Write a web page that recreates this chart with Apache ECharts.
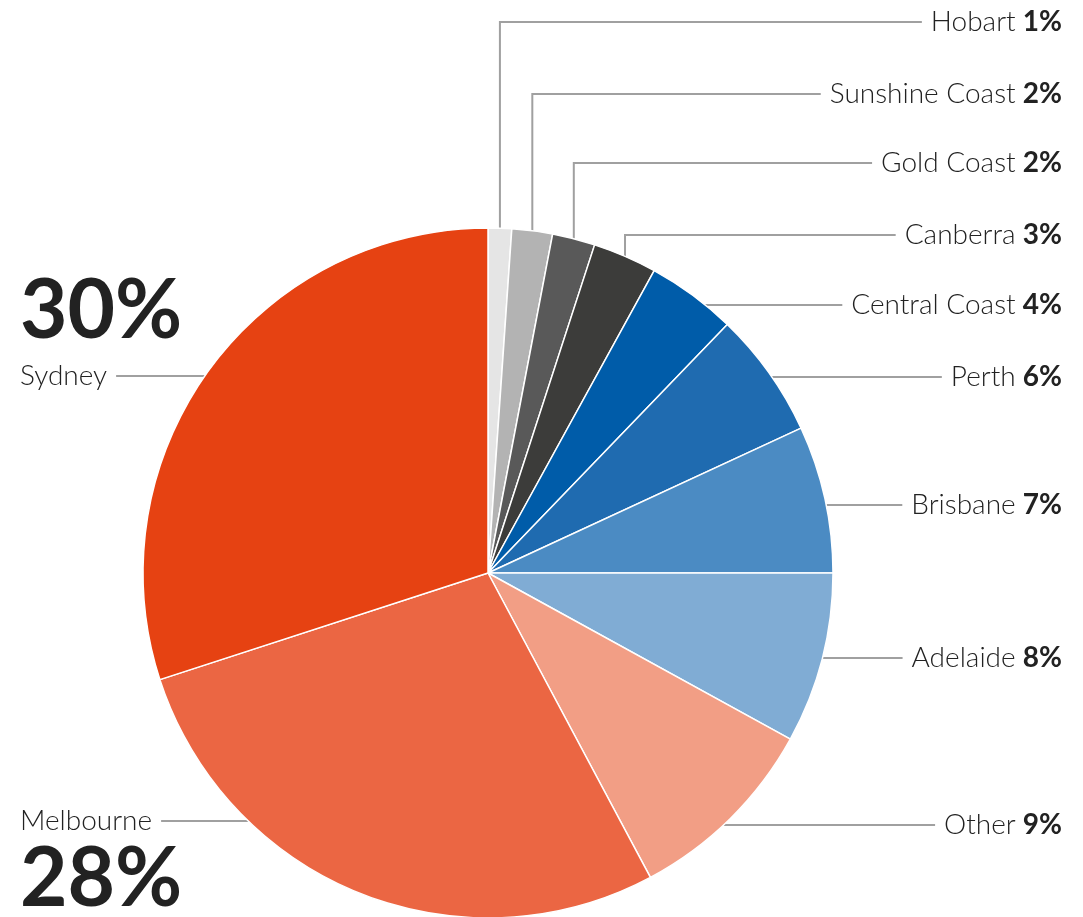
<!DOCTYPE html>
<html>
<head>
<meta charset="utf-8">
<script src="https://cdn.jsdelivr.net/npm/echarts@6/dist/echarts.min.js"></script>
<style>
  html, body { margin: 0; padding: 0; background: #fff; }
  #main { width: 1083px; height: 917px; }
</style>
</head>
<body>
<div id="main"></div>
<script>
// data, clockwise from 12 o'clock
var cities = ['Hobart', 'Sunshine Coast', 'Gold Coast', 'Canberra', 'Central Coast', 'Perth',
  'Brisbane', 'Adelaide', 'Other', 'Melbourne', 'Sydney'];
var shares = [1.1, 1.9, 2.0, 3.0, 4.2, 5.9, 6.9, 8.0, 9.2, 27.8, 30.0];
var colors = ['#e5e5e5', '#b3b3b3', '#595959', '#3c3c3a', '#005ca9', '#1f6bb0',
  '#4b8bc3', '#80acd4', '#f29e85', '#eb6643', '#e64212'];

// label rows (y of the leader line for each label)
var rowY = [22, 94, 163, 235, 305, 377, 505, 658, 825, 821, 376];

var CX = 488, CY = 573, R = 345;
var RIGHT_X = 1062, LEFT_X = 20, GAP = 9;
var FONT = 'Lato';
var FS = 28, NAME_LH = 32;
var BIG_TOP_LH = 96, BIG_BOT_LH = 86;

var total = shares.reduce(function (a, b) { return a + b; }, 0);
var arcs = [];
var acc = 0;
shares.forEach(function (v) {
  arcs.push({ s: acc / total * 360, e: (acc + v) / total * 360 });
  acc += v;
});

var ctx = document.createElement('canvas').getContext('2d');
function textWidth(str) {
  ctx.font = '300 ' + FS + 'px ' + FONT;
  return ctx.measureText(str).width;
}

var pieData = cities.map(function (c, i) {
  return { name: c, value: shares[i], itemStyle: { color: colors[i] } };
});

var myChart = echarts.init(document.getElementById('main'));

var option = {
  animation: false,
  series: [
    {
      type: 'pie',
      center: [CX, CY],
      radius: [0, R],
      startAngle: 90,
      clockwise: true,
      avoidLabelOverlap: false,
      silent: true,
      itemStyle: { borderColor: '#fff', borderWidth: 1.5 },
      label: {
        show: true,
        position: 'outside',
        fontFamily: FONT,
        fontSize: FS,
        color: '#222',
        formatter: function (p) {
          var pct = Math.round(p.value) + '%';
          if (p.dataIndex === 10) return '{bigT|' + pct + '}\n{name|' + p.name + '}';
          if (p.dataIndex === 9) return '{name|' + p.name + '}\n{bigB|' + pct + '}';
          return '{n|' + p.name + '} {p|' + pct + '}';
        },
        rich: {
          n: { fontFamily: FONT, fontSize: FS, fontWeight: 300, color: '#222', lineHeight: NAME_LH },
          p: { fontFamily: FONT, fontSize: FS, fontWeight: 'bold', color: '#222', lineHeight: NAME_LH },
          name: { fontFamily: FONT, fontSize: FS, fontWeight: 300, color: '#222', lineHeight: NAME_LH },
          bigT: { fontFamily: FONT, fontSize: 82, fontWeight: 'bold', color: '#222', lineHeight: BIG_TOP_LH },
          bigB: { fontFamily: FONT, fontSize: 82, fontWeight: 'bold', color: '#222', lineHeight: BIG_BOT_LH }
        }
      },
      labelLine: {
        show: true,
        lineStyle: { color: '#a0a0a0', width: 2 }
      },
      labelLayout: function (p) {
        var i = p.dataIndex;
        var y = rowY[i];
        var left = i >= 9;
        var a = arcs[i];
        var dy = y - CY;
        var p0, p1;
        var inside = false;
        var ex = CX;
        if (Math.abs(dy) < R) {
          var dx = Math.sqrt(R * R - dy * dy);
          ex = left ? CX - dx : CX + dx;
          var ang = Math.atan2(ex - CX, CY - y) * 180 / Math.PI;
          if (ang < 0) ang += 360;
          inside = ang >= a.s && ang <= a.e;
        }
        if (inside) {
          p0 = [ex, y];
          p1 = [ex, y];
        } else {
          var m = (a.s + a.e) / 2 * Math.PI / 180;
          var mx = CX + R * Math.sin(m), my = CY - R * Math.cos(m);
          p0 = [mx, my];
          p1 = [mx, y];
        }
        if (!left) {
          var tx = RIGHT_X - p.labelRect.width - GAP;
          return {
            x: RIGHT_X, y: y, align: 'right', verticalAlign: 'middle',
            labelLinePoints: [p0, p1, [tx, y]]
          };
        }
        var tx2 = LEFT_X + textWidth(cities[i]) + GAP;
        return {
          x: LEFT_X,
          y: i === 10 ? y + NAME_LH / 2 : y - NAME_LH / 2,
          align: 'left',
          verticalAlign: i === 10 ? 'bottom' : 'top',
          labelLinePoints: [[tx2, y], p1, p0]
        };
      },
      data: pieData
    }
  ]
};

myChart.setOption(option);
</script>
</body>
</html>
